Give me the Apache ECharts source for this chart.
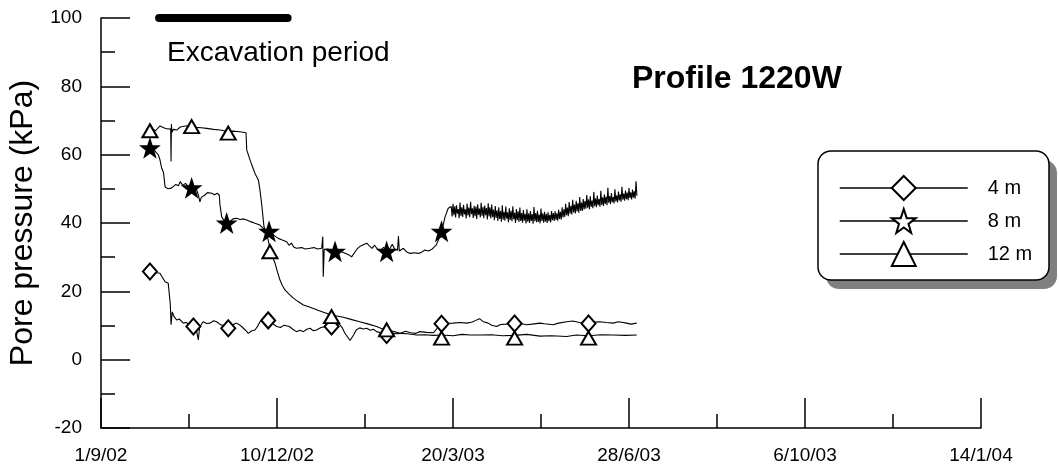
<!DOCTYPE html>
<html><head><meta charset="utf-8">
<script src="https://cdn.jsdelivr.net/npm/echarts/dist/echarts.min.js"></script>
<style>html,body{margin:0;padding:0;background:#fff}#c{width:1059px;height:472px}</style>
</head><body><div id="c"></div>
<script>
// ---- data (x = days since 1/9/02, y = pore pressure kPa) ----
const seriesNames = ['4 m', '8 m', '12 m'];
const xTickLabels = ['1/9/02', '10/12/02', '20/3/03', '28/6/03', '6/10/03', '14/1/04'];
const excavation = [[33, 100], [106, 100]];

const line4 = [[27.8,25.8],[30,25.6],[33.5,25.3],[35,24.0],[36.4,22.8],[38.2,22.4],[38.8,22.6],[39.4,16],[39.8,10.2],[40.5,14],[41.5,12.6],[43,11.6],[44.5,11.9],[46.8,10.7],[48.5,10.9],[50,10.2],[52.5,9.7],[54,9.2],[55.3,5.8],[56,9.5],[58,11.1],[60,10.6],[62,10.7],[64,11.4],[65.7,11.1],[68,10.2],[70,9.9],[72.3,9.2],[74,10.0],[77,10.7],[79,10.1],[80.9,9.2],[82.5,8.4],[83.7,7.7],[85.5,8.4],[87.5,8.7],[89,9.8],[90.3,11.1],[92,11.3],[95,11.3],[97,10.8],[99.8,9.7],[102,9.4],[104,10.1],[107,9.7],[109,8.9],[111,8.2],[113,8.6],[115,8.2],[117,8.9],[118.8,9.2],[120.5,8.5],[122.5,8.7],[125,9.4],[128,9.7],[131,9.7],[133,10.3],[135.8,10.2],[137,9.4],[138.5,7.8],[140,6.7],[141.5,5.6],[142.4,5.3],[143.5,7.2],[145,8.7],[147,9.3],[149,9.0],[151,9.2],[153,8.6],[154.8,8.9],[156.6,8.2],[159,7.9],[162.3,7.5],[165,7.9],[168,7.6],[170,7.7],[173,8.3],[176,7.9],[179,7.7],[181,8.2],[185,8.0],[189,7.9],[191,9.2],[193.5,10.5],[196,10.6],[200,10.7],[204,10.9],[207.8,10.7],[211,11.0],[213,11.5],[215,12.0],[217,11.2],[220,10.7],[222,10.1],[224.8,9.7],[227,10.3],[230,10.4],[233,10.6],[235,10.7],[238,10.6],[241.9,10.2],[245,10.4],[249.4,10.7],[252,10.5],[257,10.2],[260,10.7],[264.6,11.1],[268,11.3],[272,10.9],[277,10.7],[280,11.0],[283.5,11.1],[287,10.9],[291,10.7],[294,11.1],[298.7,10.7],[301,10.4],[304.4,10.7]];

const line8 = [[27.8,61.9],[30,61.5],[32.6,59.9],[33.5,58.5],[34.5,56.0],[35.5,54.8],[36.4,50.6],[38,50.0],[39,50.5],[40,50.2],[41,50.6],[42.5,51.3],[44,50.9],[45,52.1],[46.5,51.0],[48,51.6],[50,50.5],[51.5,50.2],[53,49.6],[54,50.3],[55.3,48.2],[56.2,46.2],[57,47.5],[59,48.2],[60.5,48.9],[62.9,48.7],[64.5,48.3],[66,48.7],[67.2,48.2],[67.6,45.3],[68.6,41.8],[70,40.6],[71.4,39.9],[73,40.3],[75,41.2],[77,41.4],[79,41.0],[81,41.2],[82.8,40.9],[85,40.4],[87.5,39.9],[90.3,39.4],[92,38.5],[93.5,38.0],[95.5,37.5],[97,37.0],[98.5,36.3],[100.7,35.5],[103,35.0],[105.5,34.5],[106.8,33.5],[107.4,33.1],[108.2,34.1],[109.5,33.0],[111,32.6],[114,32.8],[116,32.4],[118.8,32.6],[121,32.8],[123,32.4],[125.4,32.6],[126.0,36.0],[126.3,24.3],[126.8,32.2],[129,32.4],[131,31.9],[133,31.6],[135,32.1],[137,31.5],[139,31.1],[141,30.6],[142.4,30.1],[144,31.3],[145.5,32.4],[147,33.1],[149,33.6],[151,34.1],[152.5,33.3],[154,32.6],[155.5,33.5],[157,32.4],[159,32.0],[160.5,32.9],[162.3,31.6],[164,32.4],[165.5,33.8],[167,32.2],[168.5,32.0],[169.0,36.2],[169.5,31.8],[171.8,32.6],[173.5,31.6],[175.6,31.1],[178,31.3],[180.3,31.1],[182,31.4],[184,32.1],[186,31.8],[188,32.3],[189,32.1],[190.5,33.6],[191.7,35.0],[193.5,37.5],[195.5,41.8],[197.3,44.3],[198.3,44.8],
[199,44.8],[199.5,41.9],[200,45.6],[200.5,42.3],[201,44.9],[201.5,41.6],[202,45.2],[202.5,42.7],[203,44.1],[203.5,41.4],[204,46.0],[204.5,42.1],[205,44.6],[205.5,41.8],[206,45.3],[206.5,42.5],[207,44.0],[207.5,41.3],[208,45.7],[208.5,42.2],[209,44.5],[209.5,41.7],[210,46.2],[210.5,42.6],[211,44.3],[211.5,41.5],[212,45.0],[212.5,42.0],[213,44.8],[213.5,41.2],[214,45.5],[214.5,42.4],[215,44.2],[215.5,41.6],[216,45.9],[216.5,42.1],[217,44.7],[217.5,41.4],[218,45.1],[218.5,42.3],[219,44.4],[219.5,41.0],[220,45.8],[220.5,41.9],[221,44.6],[221.5,41.3],[222,45.4],[222.5,41.8],[223,43.9],[223.5,40.8],[224,45.0],[224.5,41.5],
[225,43.7],[225.5,40.6],[226,44.6],[226.5,41.2],[227,43.5],[227.5,40.4],[228,45.2],[228.5,41.0],[229,43.3],[229.5,40.7],[230,44.8],[230.5,41.3],[231,43.1],[231.5,40.2],[232,44.3],[232.5,40.9],[233,43.6],[233.5,40.5],[234,44.9],[234.5,41.1],[235,43.0],[235.5,40.0],[236,44.1],[236.5,40.8],[237,43.4],[237.5,40.3],[238,44.5],[238.5,40.6],[239,42.9],[239.5,40.1],[240,43.8],[240.5,40.7],[241,42.7],[241.5,39.9],[242,44.0],[242.5,40.4],[243,42.8],[243.5,40.0],[244,43.5],[244.5,40.6],[245,42.6],[245.5,39.8],[246,44.7],[246.5,40.5],[247,42.9],[247.5,40.2],[248,43.6],[248.5,40.3],[249,42.5],[249.5,39.9],[250,44.2],[250.5,40.6],[251,42.8],[251.5,40.1],[252,43.3],[252.5,40.4],[253,42.7],[253.5,40.0],[254,43.1],[254.5,40.5],[255,42.4],[255.5,40.2],[256,43.5],[256.5,40.8],[257,42.9],[257.5,40.6],[258,43.4],[258.5,40.9],[259,42.8],[259.5,40.7],[260,43.9],[260.5,41.2],[261,43.3],[261.5,41.0],
[262,44.6],[262.5,41.6],[263,44.0],[263.5,41.8],[264,45.6],[264.5,42.3],[265,44.5],[265.5,42.0],[266,46.1],[266.5,42.7],[267,45.0],[267.5,42.5],[268,46.8],[268.5,43.1],[269,45.4],[269.5,42.8],[270,46.5],[270.5,43.4],[271,45.8],[271.5,43.0],[272,47.6],[272.5,43.6],[273,46.0],[273.5,43.5],[274,47.0],[274.5,44.0],[275,46.4],[275.5,44.2],[276,48.2],[276.5,44.5],[277,46.9],[277.5,44.0],[278,47.8],[278.5,44.7],[279,46.6],[279.5,44.3],[280,49.1],[280.5,44.9],[281,47.2],[281.5,44.6],[282,48.0],[282.5,45.2],[283,47.0],[283.5,44.8],[284,49.4],[284.5,45.3],[285,47.5],[285.5,45.0],[286,48.3],[286.5,45.6],[287,47.7],[287.5,45.2],[288,50.3],[288.5,45.9],[289,47.9],[289.5,45.5],[290,48.8],[290.5,46.1],[291,47.6],[291.5,45.7],[292,49.9],[292.5,46.3],[293,48.1],[293.5,46.0],[294,49.2],[294.5,46.6],[295,48.4],[295.5,46.2],[296,50.6],[296.5,46.8],[297,48.6],[297.5,46.5],[298,49.5],[298.5,47.0],[299,48.9],[299.5,46.7],[300,50.2],[300.5,47.3],[301,49.0],[301.5,46.9],[302,49.8],[302.5,47.4],[303,49.3],[303.5,47.2],[304,52.2],[304.5,48.0]];

const line12 = [[26.5,67.2],[29,67.6],[31,67.0],[33.5,68.4],[36,67.8],[38,67.5],[39.6,67.6],[39.8,58.0],[40.0,69.0],[40.3,66.5],[41,67.4],[43,67.2],[45,68.1],[48,68.4],[51.5,68.5],[54,68.0],[57,67.9],[60,67.7],[64,67.4],[67.6,67.2],[70,67.0],[72.3,66.8],[75,66.9],[79,66.7],[82.4,66.4],[82.8,61.4],[84.7,58.4],[87.5,54.5],[89.4,52.6],[90.3,49.7],[91.3,45.5],[92.6,38.9],[94,36.8],[95,35],[96,32.5],[97.5,30],[98.9,28.2],[100.3,25.6],[101.7,23.3],[103,21.8],[104.5,20.4],[107,19.1],[109.3,18.0],[112,17.0],[115,16.0],[118,15.5],[120.7,15.0],[124,14.3],[128,13.6],[131,13.0],[134,12.8],[137.7,12.4],[142,11.8],[147,11.1],[152,10.4],[156.6,9.7],[160,9.0],[162,8.7],[166,8.3],[170,7.7],[174,7.6],[179.4,7.2],[184,7.3],[189,7.1],[193.5,7.2],[200,7.0],[205,7.4],[210,7.2],[215,7.2],[222,7.3],[228,7.0],[235,7.1],[242,7.4],[249.4,6.9],[256,7.0],[264.6,6.8],[270,7.2],[277,7.0],[284,7.3],[291,7.2],[298,7.1],[304.4,7.2]];

const marks4 = [[27.8,25.8],[52.5,9.7],[72.3,9.2],[95,11.5],[131,9.7],[162.3,7.2],[193.5,10.5],[235,10.6],[277,10.6]];
const marks8 = [[27.8,61.9],[51.5,50.2],[71.4,39.9],[95.5,37.5],[133,31.6],[162.3,31.6],[193.5,37.5]];
const marks12 = [[27.8,67.0],[51.5,68.2],[72.3,66.3],[96,31.6],[131,12.6],[162.3,8.7],[193.5,6.3],[235,6.3],[277,6.3]];

// ---- styling ----
const FONT = '"Liberation Sans", Arial, sans-serif';
const STAR = 'path://M50,0 L61.8,34.5 L97.6,34.5 L68.8,56.2 L79.4,90.5 L50,69.5 L20.6,90.5 L31.2,56.2 L2.4,34.5 L38.2,34.5 Z';
const symbols = {'4 m': 'diamond', '8 m': STAR, '12 m': 'triangle'};
const sizes = {'4 m': [14, 16], '8 m': [16, 16], '12 m': [15, 13]};
const fills = {'4 m': '#fff', '8 m': '#000', '12 m': '#fff'};
const lines = {'4 m': line4, '8 m': line8, '12 m': line12};
const marks = {'4 m': marks4, '8 m': marks8, '12 m': marks12};

const series = [];
seriesNames.forEach(n => {
  series.push({
    name: n, type: 'line', data: lines[n], showSymbol: false,
    symbol: symbols[n], symbolSize: sizes[n],
    lineStyle: {color: '#000', width: 1.1},
    itemStyle: {color: '#fff', borderColor: '#000', borderWidth: 2},
    emphasis: {disabled: true}, silent: true, z: 2
  });
});
seriesNames.forEach(n => {
  series.push({
    name: n, type: 'scatter', data: marks[n],
    symbol: symbols[n], symbolSize: sizes[n],
    itemStyle: {color: fills[n], borderColor: '#000', borderWidth: 2, opacity: 1},
    emphasis: {disabled: true}, silent: true, z: 3
  });
});
series.push({
  name: 'Excavation period', type: 'line', data: excavation, symbol: 'none', clip: false,
  lineStyle: {color: '#000', width: 8, cap: 'round'}, silent: true, z: 4
});

const axisCommon = {
  axisLine: {show: true, onZero: false, lineStyle: {color: '#000', width: 1.5}},
  axisTick: {show: true, inside: true, lineStyle: {color: '#000', width: 1.5}},
  minorTick: {show: true, splitNumber: 2, lineStyle: {color: '#000', width: 1.5}},
  splitLine: {show: false},
  minorSplitLine: {show: false}
};

const option = {
  animation: false,
  backgroundColor: '#fff',
  title: [
    {text: 'Profile 1220W', left: 632, top: 63, padding: 0,
     textStyle: {fontFamily: FONT, fontSize: 32, fontWeight: 'bold', color: '#000'}},
    {text: 'Excavation period', left: 167, top: 39, padding: 0,
     textStyle: {fontFamily: FONT, fontSize: 28, fontWeight: 'normal', color: '#000'}}
  ],
  graphic: [
    {type: 'rect', z: 1, silent: true, shape: {x: 826, y: 160, width: 231, height: 129, r: 13},
     style: {fill: '#808080'}},
    {type: 'rect', z: 1, silent: true, shape: {x: 818, y: 151, width: 231, height: 129, r: 13},
     style: {fill: '#fff', stroke: '#000', lineWidth: 1.5}}
  ],
  legend: {
    orient: 'vertical', left: 818, top: 151,
    padding: [24, 19, 13, 21],
    itemWidth: 128, itemHeight: 30, itemGap: 7,
    textStyle: {fontFamily: FONT, fontSize: 20, color: '#000', padding: [0, 0, 0, 15]},
    itemStyle: {color: '#fff', borderColor: '#000', borderWidth: 2},
    lineStyle: {color: '#000', width: 1.5},
    selectedMode: false, z: 5,
    data: seriesNames
  },
  grid: {left: 101, right: 78, top: 18, bottom: 44, containLabel: false, outerBoundsMode: 'none'},
  xAxis: Object.assign({}, axisCommon, {
    type: 'value', min: 0, max: 500, interval: 100,
    axisTick: Object.assign({}, axisCommon.axisTick, {length: 30}),
    minorTick: Object.assign({}, axisCommon.minorTick, {length: 14}),
    axisLabel: {margin: 18, fontFamily: FONT, fontSize: 19, color: '#000',
      formatter: v => xTickLabels[Math.round(v / 100)]}
  }),
  yAxis: Object.assign({}, axisCommon, {
    type: 'value', min: -20, max: 100, interval: 20,
    axisTick: Object.assign({}, axisCommon.axisTick, {length: 29}),
    minorTick: Object.assign({}, axisCommon.minorTick, {length: 14}),
    axisLabel: {margin: 19, fontFamily: FONT, fontSize: 19, color: '#000'},
    name: 'Pore pressure (kPa)', nameLocation: 'middle', nameGap: 56,
    nameTextStyle: {fontFamily: FONT, fontSize: 32, color: '#000'}
  }),
  series: series
};

const chart = echarts.init(document.getElementById('c'), null, {renderer: 'canvas'});
chart.setOption(option);
</script></body></html>
